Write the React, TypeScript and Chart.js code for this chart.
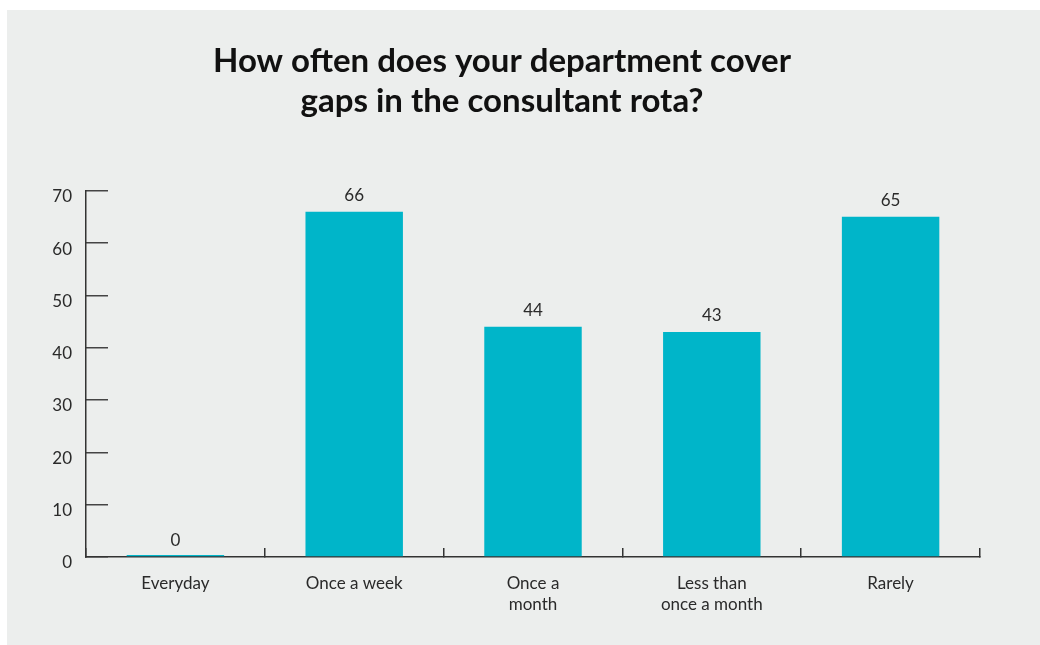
import React, { useEffect, useRef } from 'react';
import { Chart, registerables } from 'chart.js';

Chart.register(...registerables);

const categories: (string | string[])[] = [
  'Everyday',
  'Once a week',
  ['Once a', 'month'],
  ['Less than', 'once a month'],
  'Rarely',
];
const values: number[] = [0, 66, 44, 43, 65];
const yTickValues: number[] = [0, 10, 20, 30, 40, 50, 60, 70];
const titleLines: string[] = ['How often does your department cover', 'gaps in the consultant rota?'];

const FONT = 'Lato, "Open Sans", sans-serif';
const BAR_COLOR = '#00b5c9';
const TEXT_COLOR = '#2a2a2a';
const AXIS_COLOR = '#333333';

const valueLabels = {
  id: 'valueLabels',
  afterDatasetsDraw(chart: any) {
    const { ctx } = chart;
    const meta = chart.getDatasetMeta(0);
    const yScale = chart.scales.y;
    ctx.save();
    ctx.font = `17px ${FONT}`;
    ctx.fillStyle = TEXT_COLOR;
    ctx.textAlign = 'center';
    ctx.textBaseline = 'middle';
    meta.data.forEach((bar: any, i: number) => {
      const top = yScale.getPixelForValue(values[i]);
      ctx.fillText(String(values[i]), bar.x, top - 16);
    });
    ctx.restore();
  },
};

export default function App() {
  const canvasRef = useRef<HTMLCanvasElement | null>(null);

  useEffect(() => {
    if (!canvasRef.current) return;
    const chart = new Chart(canvasRef.current, {
      type: 'bar',
      data: {
        labels: categories as any,
        datasets: [
          {
            data: values,
            backgroundColor: BAR_COLOR,
            borderWidth: 0,
            categoryPercentage: 1,
            barPercentage: 0.545,
            minBarLength: 2,
          },
        ],
      },
      options: {
        responsive: false,
        animation: false,
        devicePixelRatio: 1,
        layout: { padding: { left: 17, right: 60, top: 0, bottom: 32 } },
        plugins: {
          legend: { display: false },
          tooltip: { enabled: false },
          title: {
            display: true,
            text: titleLines,
            color: '#111111',
            font: { family: FONT, size: 33, weight: 'bold', lineHeight: 1.2 },
            padding: { top: 32, bottom: 69.5 },
          },
        },
        scales: {
          x: {
            grid: {
              display: true,
              drawOnChartArea: false,
              drawTicks: true,
              tickLength: -9,
              color: AXIS_COLOR,
              offset: true,
              lineWidth: 1.5,
            },
            border: { display: true, color: AXIS_COLOR, width: 1.5 },
            ticks: {
              font: { family: FONT, size: 17, lineHeight: 1.25 },
              color: TEXT_COLOR,
              padding: 25,
              maxRotation: 0,
              autoSkip: false,
            },
            afterFit: (s: any) => {
              s.height = 56;
            },
          },
          y: {
            min: 0,
            max: 70,
            afterBuildTicks: (s: any) => {
              s.ticks = yTickValues.map((v) => ({ value: v }));
            },
            grid: {
              display: true,
              drawOnChartArea: false,
              drawTicks: true,
              tickLength: -22,
              color: '#444444',
              lineWidth: 1.5,
            },
            border: { display: true, color: AXIS_COLOR, width: 1.5 },
            ticks: {
              font: { family: FONT, size: 17 },
              color: TEXT_COLOR,
              padding: 36,
              labelOffset: 6,
            },
            afterFit: (s: any) => {
              s.width = 62;
            },
          },
        },
      } as any,
      plugins: [valueLabels],
    });
    return () => chart.destroy();
  }, []);

  return (
    <div
      style={{
        position: 'fixed',
        left: 7,
        top: 10,
        width: 1033,
        height: 635,
        background: '#eceeed',
      }}
    >
      <canvas ref={canvasRef} width={1033} height={635} style={{ display: 'block', width: 1033, height: 635 }} />
    </div>
  );
}
